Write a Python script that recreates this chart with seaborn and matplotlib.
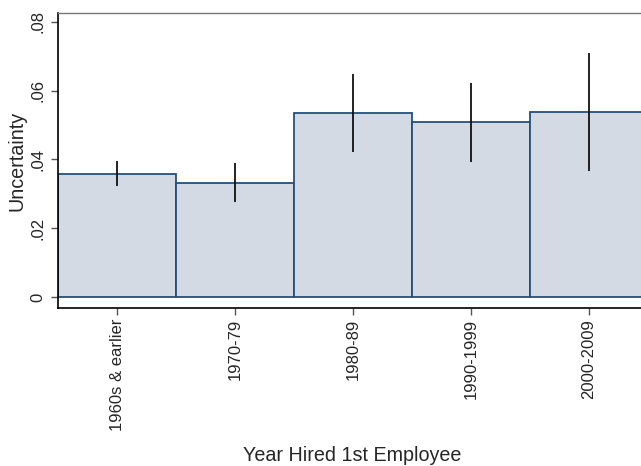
import matplotlib
matplotlib.use("Agg")
import matplotlib.pyplot as plt
import pandas as pd
import seaborn as sns

# values
periods = ["1960s & earlier", "1970-79", "1980-89", "1990-1999", "2000-2009"]
uncertainty = [0.0358, 0.0333, 0.0534, 0.0508, 0.0537]
ci_low = [0.0323, 0.0275, 0.0421, 0.0394, 0.0367]
ci_high = [0.0396, 0.0389, 0.0648, 0.0622, 0.0709]
ytick_vals = [0, 0.02, 0.04, 0.06, 0.08]
ytick_labels = ["0", ".02", ".04", ".06", ".08"]

sns.set_style("white")
plt.rcParams["font.family"] = ["Liberation Sans", "DejaVu Sans"]

df = pd.DataFrame({"period": periods, "uncertainty": uncertainty})

fig = plt.figure(figsize=(6.41, 4.66), dpi=100)
ax = fig.add_axes([58 / 641, 1 - 308 / 466, 1 - 58 / 641, (308 - 13) / 466])

sns.barplot(data=df, x="period", y="uncertainty", width=1.0, color="#d3dae3",
            edgecolor="#25507a", linewidth=1.3, saturation=1, errorbar=None, ax=ax)
ax.vlines(range(len(periods)), ci_low, ci_high, color="#111111", linewidth=1.3, zorder=5)

ax.set_xlim(-0.5, (641 - 58) / 118 - 0.5)
ax.set_ylim(-0.0032, 0.0826)
ax.set_yticks(ytick_vals)
ax.set_yticklabels(ytick_labels, rotation=90, va="center", fontsize=12)
ax.set_xticks(range(len(periods)))
ax.set_xticklabels(periods, rotation=90, fontsize=12)
ax.tick_params(axis="both", length=5, width=1, color="#555555", direction="out")
ax.tick_params(axis="x", pad=3)
ax.tick_params(axis="y", pad=4)
ax.tick_params(axis="both", bottom=True, left=True)

ax.set_ylabel("Uncertainty", fontsize=14.2, va="center")
ax.yaxis.set_label_coords((17.5 - 58) / 583, 0.5)
ax.set_xlabel("Year Hired 1st Employee", fontsize=14.2, va="baseline")
ax.xaxis.set_label_coords((352 - 58) / 583, (308 - 461) / 295)

for side in ["left", "bottom"]:
    ax.spines[side].set_color("black")
    ax.spines[side].set_linewidth(1.2)
ax.spines["top"].set_color("#777777")
ax.spines["top"].set_linewidth(1.0)
ax.spines["right"].set_visible(False)

fig.savefig("out.png", dpi=100)
